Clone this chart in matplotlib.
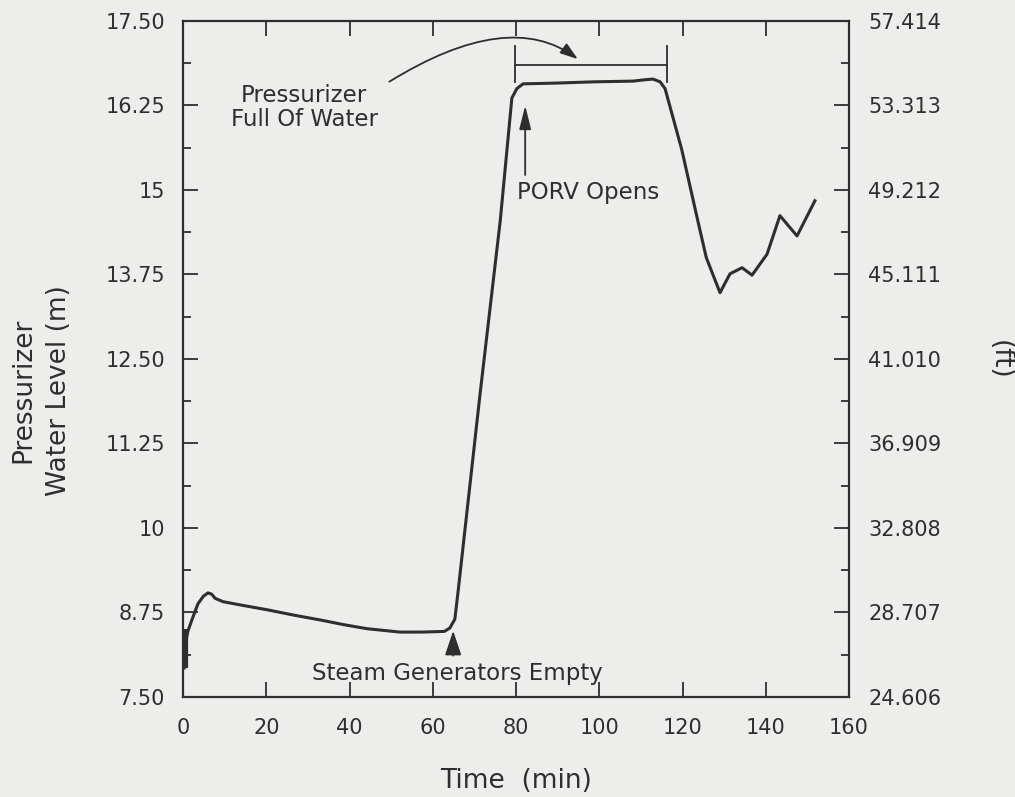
import numpy as np
import matplotlib
matplotlib.use("Agg")
import matplotlib.pyplot as plt
from matplotlib.patches import FancyArrowPatch

# pressurizer level trace (time in min, level in m)
time_min = [0.3, 0.6, 1.2, 2.2, 3.6, 4.9, 6.0, 6.9, 7.7, 9.6, 13.9, 20.2, 26.7,
            32.9, 38.6, 44.2, 52.1, 57.4, 62.8, 64.1, 65.3, 66.1, 71.3, 76.2,
            79.0, 80.2, 81.7, 89.1, 99.0, 108.1, 110.9, 112.9, 114.6, 115.8,
            119.8, 123.5, 125.7, 129.0, 131.4, 134.3, 136.7, 140.3, 143.4, 147.5, 151.8]
level_m = [7.93, 8.30, 8.48, 8.65, 8.88, 8.99, 9.04, 9.02, 8.96, 8.91, 8.86, 8.79, 8.71,
           8.64, 8.57, 8.51, 8.46, 8.46, 8.47, 8.52, 8.65, 9.07, 11.95, 14.54,
           16.36, 16.50, 16.57, 16.58, 16.60, 16.61, 16.63, 16.64, 16.60, 16.50,
           15.60, 14.59, 14.00, 13.48, 13.76, 13.85, 13.74, 14.05, 14.62, 14.32, 14.84]

m_ticks = [7.50, 8.75, 10.0, 11.25, 12.50, 13.75, 15.0, 16.25, 17.50]
m_labels = ["7.50", "8.75", "10", "11.25", "12.50", "13.75", "15", "16.25", "17.50"]
ft_labels = ["24.606", "28.707", "32.808", "36.909", "41.010", "45.111",
             "49.212", "53.313", "57.414"]
M_TO_FT = 3.28128

ink = "#2e2e2e"
paper = "#ededeb"
fs = 15
note_fs = 16.5
label_fs = 19

plt.rcParams["font.family"] = "DejaVu Sans"
fig = plt.figure(figsize=(10.15, 7.97), dpi=100, facecolor=paper)
ax = fig.add_axes([0.1803, 0.1255, 0.6562, 0.8482], facecolor=paper)

ax.plot(time_min, level_m, color=ink, lw=2.2, solid_joinstyle="round")
# thick scribble at start of the transient
ax.plot([0.4, 0.4], [7.93, 8.5], color=ink, lw=4.5, solid_capstyle="butt")

ax.set_xlim(0, 160)
ax.set_ylim(7.5, 17.5)
ax.set_xticks(np.arange(0, 161, 20))
ax.set_yticks(m_ticks, labels=m_labels)
ax.set_yticks(np.arange(7.5 + 0.625, 17.5, 1.25), minor=True)

ax.tick_params(axis="both", which="major", direction="in", length=11, width=1.3,
               colors=ink, labelsize=fs, top=True)
ax.tick_params(axis="y", which="major", pad=13)
ax.tick_params(axis="x", which="major", pad=15)
ax.tick_params(axis="y", which="minor", direction="in", length=6, width=1.3, color=ink)
ax.tick_params(axis="x", which="major", top=True, labeltop=False)
for s in ax.spines.values():
    s.set_color(ink)
    s.set_linewidth(1.6)

# right axis in feet
ax2 = ax.twinx()
ax2.set_ylim(7.5 * M_TO_FT, 17.5 * M_TO_FT)
ax2.set_yticks([v * M_TO_FT for v in m_ticks], labels=ft_labels)
ax2.set_yticks([(v + 0.625) * M_TO_FT for v in m_ticks[:-1]], minor=True)
ax2.tick_params(axis="y", which="major", direction="in", length=11, width=1.3,
                colors=ink, labelsize=fs, pad=14)
ax2.tick_params(axis="y", which="minor", direction="in", length=6, width=1.3, color=ink)
for s in ax2.spines.values():
    s.set_visible(False)

ax.set_xlabel("Time  (min)", fontsize=label_fs, color=ink, labelpad=22)
fig.text(0.0227, 0.51, "Pressurizer", rotation=90, ha="center", va="center",
         fontsize=label_fs, color=ink)
fig.text(0.058, 0.51, "Water Level (m)", rotation=90, ha="center", va="center",
         fontsize=label_fs, color=ink)
fig.text(0.985, 0.548, "(ft)", rotation=270, ha="center", va="center",
         fontsize=label_fs, color=ink)

# annotations
ax.text(29.1, 16.22, "Pressurizer\nFull Of Water", ha="center", va="center",
        fontsize=note_fs, color=ink, linespacing=1.05)
arc = FancyArrowPatch((49.0, 16.58), (95.4, 16.91),
                      connectionstyle="angle3,angleA=32,angleB=-38",
                      arrowstyle="-|>,head_length=0.9,head_width=0.3",
                      color=ink, lw=1.3, mutation_scale=12)
ax.add_patch(arc)

# bracket spanning the solid-water period
ax.plot([79.8, 116.3], [16.85, 16.85], color=ink, lw=1.3)
ax.plot([79.8, 79.8], [16.6, 17.13], color=ink, lw=1.3)
ax.plot([116.3, 116.3], [16.6, 17.13], color=ink, lw=1.3)

ax.annotate("", xy=(82.2, 16.29), xytext=(82.2, 15.18),
            arrowprops=dict(arrowstyle="-|>,head_length=1.2,head_width=0.3",
                            color=ink, lw=1.3, mutation_scale=12))
ax.text(80.2, 14.96, "PORV Opens", ha="left", va="center", fontsize=note_fs, color=ink)

ax.annotate("", xy=(64.9, 8.52), xytext=(64.9, 8.07),
            arrowprops=dict(arrowstyle="-|>,head_length=1.25,head_width=0.42",
                            color=ink, lw=1.3, mutation_scale=12))
ax.text(65.8, 7.85, "Steam Generators Empty", ha="center", va="center",
        fontsize=note_fs, color=ink)

fig.savefig("out.png", dpi=100, facecolor=paper)
